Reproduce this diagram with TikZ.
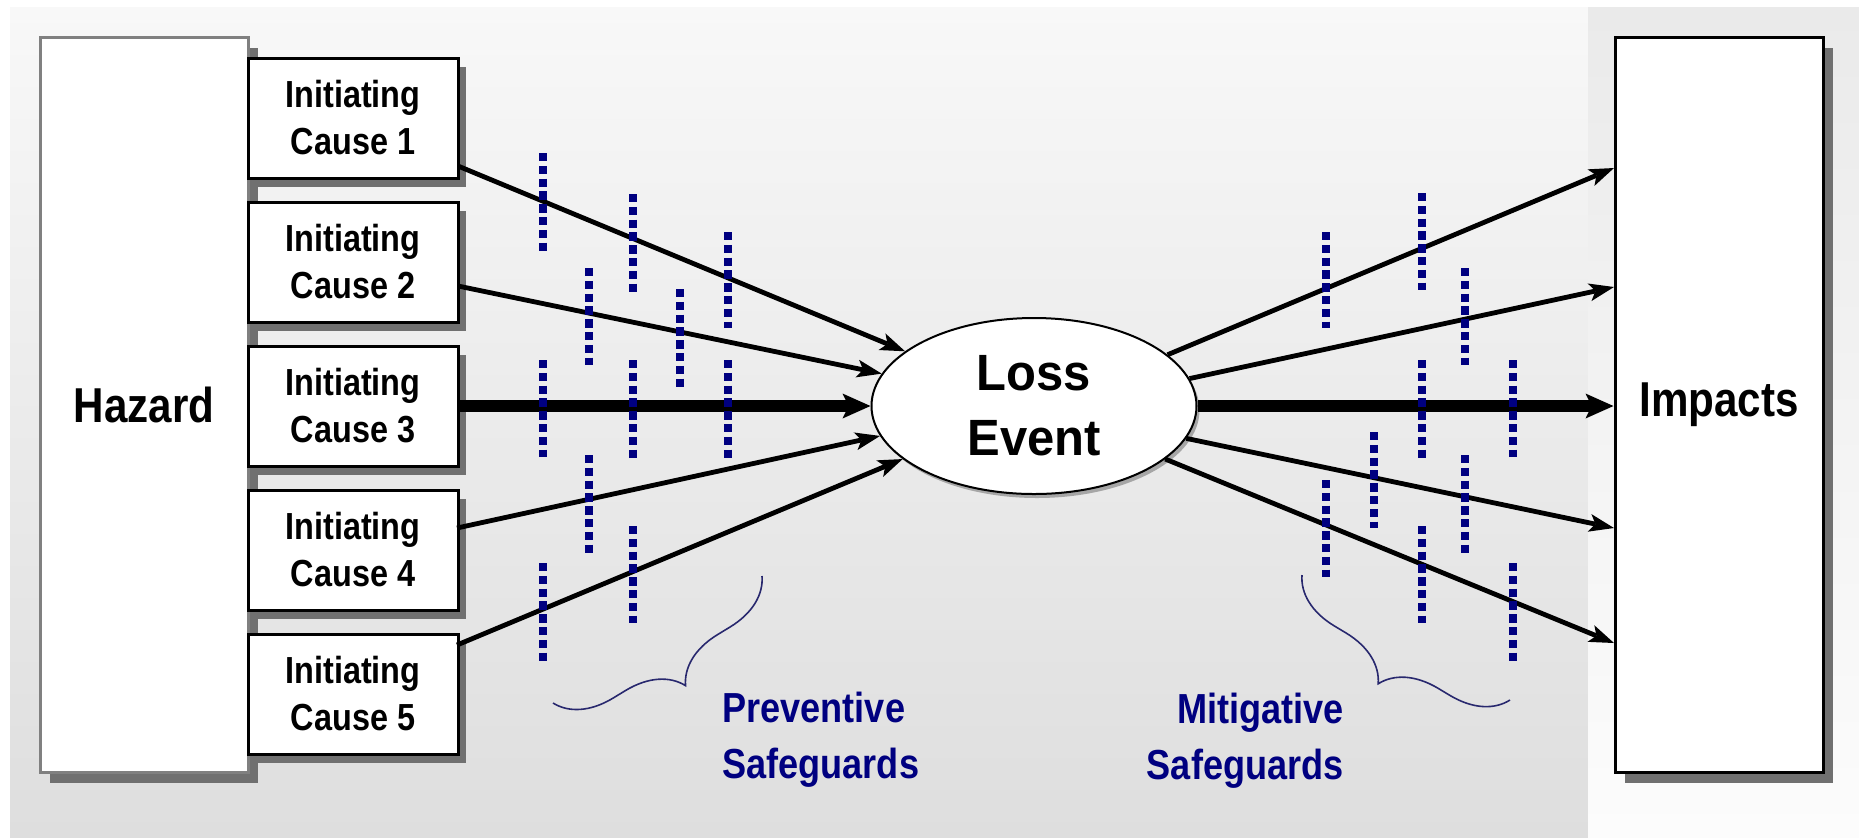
\documentclass[tikz,border=0pt]{standalone}
\usepackage{fontspec}
\usetikzlibrary{arrows.meta,shadows,decorations.pathreplacing,shapes.geometric}
\newfontfamily\cfont[FakeStretch=0.86]{Liberation Sans}
\newfontfamily\lfont[FakeStretch=0.96]{Liberation Sans}
\definecolor{navyb}{RGB}{0,0,128}
\definecolor{bracec}{RGB}{40,40,110}
\definecolor{shd}{RGB}{112,112,112}
\definecolor{bgtop}{RGB}{248,248,248}
\definecolor{bgbot}{RGB}{222,222,222}
\definecolor{rtop}{RGB}{234,234,234}
\definecolor{rbot}{RGB}{252,252,252}
\definecolor{hzgray}{RGB}{128,128,128}
\tikzset{
  causebox/.style={draw=black, line width=1.5pt, fill=white,
    minimum width=105pt, minimum height=60pt, inner sep=0pt, align=center,
    font=\cfont\bfseries\fontsize{18.85}{23.5}\selectfont,
    general shadow={fill=shd, shadow xshift=4pt, shadow yshift=-4.5pt}},
  bigbox/.style={line width=1.5pt, fill=white,
    minimum width=104pt, minimum height=367.5pt, inner sep=0pt,
    font=\cfont\bfseries\fontsize{24.5}{29}\selectfont,
    general shadow={fill=shd, shadow xshift=5pt, shadow yshift=-5.5pt}},
  lossnode/.style={ellipse, draw=black, line width=1pt, fill=white,
    minimum width=162.5pt, minimum height=88pt, inner sep=0pt, align=center,
    font=\lfont\bfseries\fontsize{25.5}{32.5}\selectfont,
    general shadow={fill=gray!70, shadow xshift=1.5pt, shadow yshift=-2pt}},
  flow/.style={line width=2.4pt, -{Stealth[length=12.5pt,width=9pt,inset=3pt,line width=0pt]}},
  bigflow/.style={line width=5.8pt, -{Stealth[length=14pt,width=12.5pt,inset=3pt,line width=0pt]}},
  guard/.style={draw=navyb, line width=4.3pt, dash pattern=on 4.2pt off 2.2pt},
  bracestyle/.style={draw=bracec, line width=0.8pt, decorate,
    decoration={brace, amplitude=27pt}},
  lab/.style={text=navyb, inner sep=0pt,
    font=\cfont\bfseries\fontsize{21}{28}\selectfont}
}
\begin{document}
\begin{tikzpicture}[x=0.5pt,y=-0.5pt]
\useasboundingbox (0,0) rectangle (1859,837);
% background
\fill[white] (0,0) rectangle (1859,837);
\shade[top color=bgtop, bottom color=bgbot] (10,7) rectangle (1588,837);
\shade[top color=rtop, bottom color=rbot] (1588,7) rectangle (1859,837);

% main boxes
\node[bigbox, draw=hzgray] (haz) at (144,404.5) {Hazard};
\node[bigbox, draw=black] (imp) at (1719,404.5) {Impacts};

% cause boxes
\node[causebox] (c1) at (353,118) {Initiating\\Cause 1};
\node[causebox] (c2) at (353,262) {Initiating\\Cause 2};
\node[causebox] (c3) at (353,406) {Initiating\\Cause 3};
\node[causebox] (c4) at (353,550) {Initiating\\Cause 4};
\node[causebox] (c5) at (353,694) {Initiating\\Cause 5};

% loss event
\node[lossnode] (loss) at (1034,406) {Loss\\Event};

% connector end points
\coordinate (s1) at (458,166);
\coordinate (s2) at (458,286);
\coordinate (s4) at (457,528);
\coordinate (s5) at (457,645);
\coordinate (t1) at (1614,168);
\coordinate (t2) at (1614,287);
\coordinate (t4) at (1614,528);
\coordinate (t5) at (1614,643);

% incoming arrows
\draw[flow] (s1) -- (loss.157.4);
\draw[flow] (s2) -- (loss.168.8);
\draw[bigflow] (c3.east) -- (loss.west);
\draw[flow] (s4) -- (loss.191.6);
\draw[flow] (s5) -- (loss.202.3);

% outgoing arrows
\draw[flow] (loss.21.7) -- (t1);
\draw[flow] (loss.10.7) -- (t2);
\draw[bigflow] (loss.east) -- (loss.east -| imp.west);
\draw[flow] (loss.348.3) -- (t4);
\draw[flow] (loss.338.8) -- (t5);

% safeguards (dotted barriers)
\foreach \x/\a/\b in {543/153/255, 543/360/457, 543/563/663,
  589/268/365, 589/455/557,
  633/194/292, 633/360/460, 633/526/623,
  680/289/387,
  728/232/328, 728/360/460,
  1326/232/328, 1326/480/577,
  1374/432/528,
  1422/193/290, 1422/360/460, 1422/526/623,
  1465/268/365, 1465/455/556,
  1513/360/457, 1513/563/663}
  \draw[guard] (\x,\a) -- (\x,\b);

% braces
\draw[bracestyle] (762,576) -- (553,703);
\draw[bracestyle] (1510,700) -- (1302,575);

% labels
\node[lab, anchor=north west, align=left] (prev) at (722,692) {Preventive\\Safeguards};
\node[lab, anchor=north east, align=right] (miti) at (1344,693) {Mitigative\\Safeguards};
\end{tikzpicture}
\end{document}
